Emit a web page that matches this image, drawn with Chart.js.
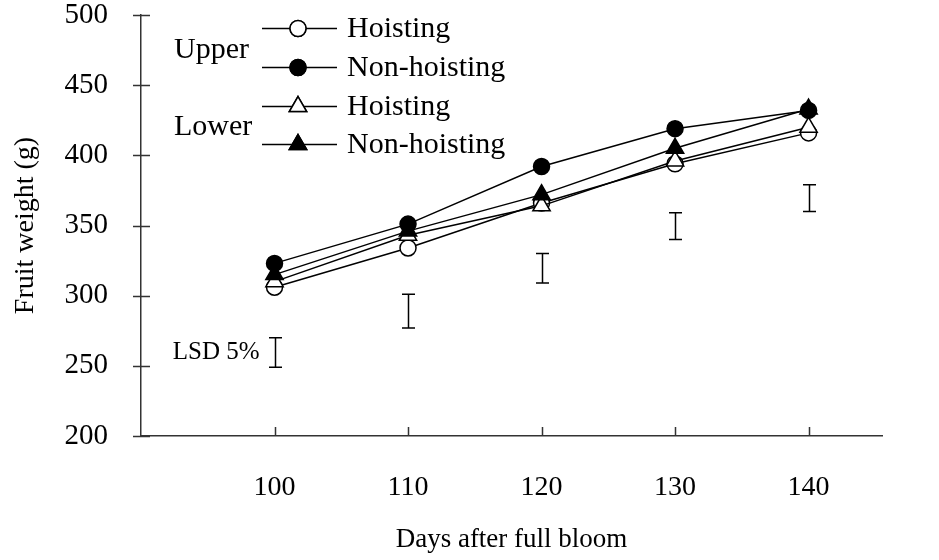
<!DOCTYPE html>
<html>
<head>
<meta charset="utf-8">
<script src="https://cdn.jsdelivr.net/npm/chart.js@4/dist/chart.umd.min.js"></script>
<style>
  html, body { margin: 0; padding: 0; background: #fff; }
</style>
</head>
<body>
<canvas id="chart" width="939" height="560"></canvas>
<script>
const days = [100, 110, 120, 130, 140];
const yTicks = [200, 250, 300, 350, 400, 450, 500];

const upperHoisting = [306, 334, 366, 394, 416];
const upperNonHoisting = [323, 351, 392, 419, 432];
const lowerHoisting = [310, 343, 364, 396, 420];
const lowerNonHoisting = [315, 346, 372, 405, 433];

// LSD 5% bars, bottom and top of each bar
const lsdLow = [249, 277, 309, 340, 360];
const lsdHigh = [270, 301, 330, 359, 379];

const FONT = "'Liberation Serif', 'Times New Roman', serif";
const INK = "#000";
const AXIS = "#333";

function series(label, values, style, filled, radius, order) {
  return {
    label,
    order,
    data: days.map((d, i) => ({ x: d, y: values[i] })),
    borderColor: INK,
    borderWidth: 1.5,
    pointStyle: style,
    pointRadius: radius,
    pointHoverRadius: radius,
    pointBackgroundColor: filled ? INK : "#fff",
    pointBorderColor: INK,
    pointBorderWidth: 1.5,
    tension: 0,
  };
}

// later series sit on top, like the original
const datasets = [
  series("Hoisting", upperHoisting, "circle", false, 8, 3),
  series("Non-hoisting", upperNonHoisting, "circle", true, 8, 2),
  series("Hoisting", lowerHoisting, "triangle", false, 10, 1),
  series("Non-hoisting", lowerNonHoisting, "triangle", true, 10, 0),
];

const decor = {
  id: "decor",
  afterDraw(chart) {
    const { ctx, scales: { x, y } } = chart;
    ctx.save();
    ctx.strokeStyle = AXIS;
    ctx.lineWidth = 1.5;

    // tick marks: crossing on y, inside on x
    ctx.beginPath();
    yTicks.forEach((v) => {
      const py = Math.round(y.getPixelForValue(v)) + 0.5;
      ctx.moveTo(x.left - 8, py);
      ctx.lineTo(x.left + 9, py);
    });
    days.forEach((d) => {
      const px = Math.round(x.getPixelForValue(d)) + 0.5;
      ctx.moveTo(px, y.bottom);
      ctx.lineTo(px, y.bottom - 9);
    });
    ctx.stroke();

    // LSD bars
    ctx.strokeStyle = INK;
    ctx.beginPath();
    days.forEach((d, i) => {
      const px = Math.round(x.getPixelForValue(d)) + 0.5;
      const top = y.getPixelForValue(lsdHigh[i]);
      const bot = y.getPixelForValue(lsdLow[i]);
      ctx.moveTo(px, top);
      ctx.lineTo(px, bot);
      ctx.moveTo(px - 6.5, top);
      ctx.lineTo(px + 6.5, top);
      ctx.moveTo(px - 6.5, bot);
      ctx.lineTo(px + 6.5, bot);
    });
    ctx.stroke();

    ctx.fillStyle = INK;
    ctx.font = "25px " + FONT;
    ctx.textAlign = "right";
    ctx.textBaseline = "middle";
    ctx.fillText("LSD 5%", x.getPixelForValue(days[0]) - 15, y.getPixelForValue((lsdLow[0] + lsdHigh[0]) / 2));

    // legend with Upper / Lower groups
    const rows = [28, 67, 106, 144];
    ctx.font = "30px " + FONT;
    ctx.textAlign = "left";
    chart.data.datasets.forEach((ds, i) => {
      const ry = rows[i] + 0.5;
      ctx.strokeStyle = INK;
      ctx.lineWidth = 1.5;
      ctx.beginPath();
      ctx.moveTo(262, ry);
      ctx.lineTo(337, ry);
      ctx.stroke();
      ctx.fillStyle = ds.pointBackgroundColor;
      Chart.helpers.drawPoint(ctx, {
        pointStyle: ds.pointStyle,
        radius: ds.pointRadius,
        rotation: 0,
        borderWidth: 1.5,
      }, 298, ry);
      ctx.fill();
      ctx.stroke();
      ctx.fillStyle = INK;
      ctx.fillText(ds.label, 347, rows[i] + 1);
    });
    ctx.fillText("Upper", 174, 50);
    ctx.fillText("Lower", 174, 127);
    ctx.restore();
  },
};

new Chart(document.getElementById("chart"), {
  type: "line",
  data: { datasets },
  options: {
    responsive: false,
    animation: false,
    events: [],
    layout: { padding: { top: 15, left: 0, right: 57, bottom: 0 } },
    plugins: { legend: { display: false }, tooltip: { enabled: false } },
    scales: {
      x: {
        type: "linear",
        min: 90,
        max: 145.5,
        afterBuildTicks: (scale) => {
          scale.ticks = days.map((v) => ({ value: v }));
        },
        afterFit: (scale) => {
          scale.height = 124;
          scale.paddingLeft = 0;
          scale.paddingRight = 0;
        },
        grid: { display: false, drawTicks: false },
        border: { display: true, color: AXIS, width: 1.5 },
        ticks: {
          color: INK,
          padding: 38,
          maxRotation: 0,
          font: { family: FONT, size: 28, lineHeight: 1 },
        },
        title: {
          display: true,
          text: "Days after full bloom",
          color: INK,
          font: { family: FONT, size: 27 },
          padding: { top: 0, bottom: 4 },
        },
      },
      y: {
        min: 200,
        max: 500,
        afterBuildTicks: (scale) => {
          scale.ticks = yTicks.map((v) => ({ value: v }));
        },
        afterFit: (scale) => {
          scale.width = 141;
          scale.paddingTop = 0;
          scale.paddingBottom = 0;
        },
        grid: { display: false, drawTicks: false },
        border: { display: true, color: AXIS, width: 1.5 },
        ticks: {
          color: INK,
          padding: 33,
          font: { family: FONT, size: 29, lineHeight: 1 },
        },
        title: {
          display: true,
          text: "Fruit weight (g)",
          color: INK,
          font: { family: FONT, size: 28 },
          padding: { top: 9, bottom: 0 },
        },
      },
    },
  },
  plugins: [decor],
});
</script>
</body>
</html>
